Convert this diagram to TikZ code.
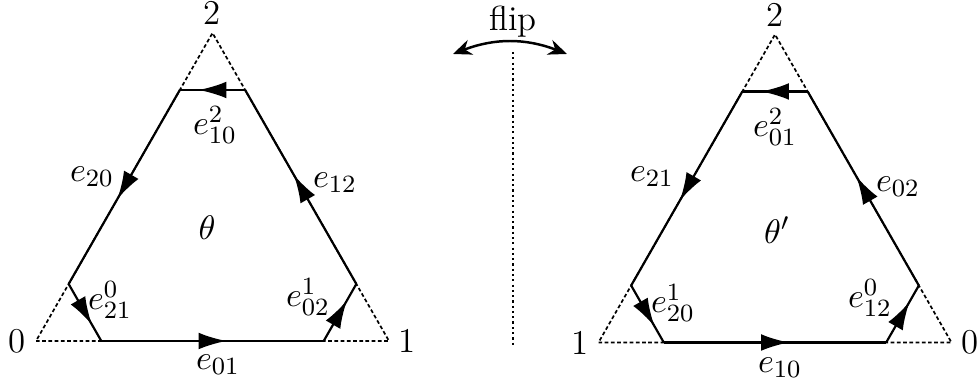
\documentclass[tikz,border=0pt]{standalone}
\usepackage{amsmath}
\usepackage{tikz}
\usetikzlibrary{arrows.meta,positioning,calc,decorations.markings}

\begin{document}
\begin{tikzpicture}[
    x=0.0113cm, y=0.0113cm,
    font=\fontsize{11.2}{13.5}\selectfont,
    edge/.style={line width=0.7pt, postaction={decorate},
      decoration={markings, mark=at position 0.5 with {\arrow[xshift=4.5pt]{Latex[length=9pt,width=5.4pt]}}}},
    cut/.style={dash pattern=on 1.2pt off 0.8pt, line width=0.55pt},
    vtx/.style={inner sep=1.5pt},
    lbl/.style={inner sep=1pt},
    axis/.style={densely dotted, line width=0.7pt}
]
\useasboundingbox (0,0) rectangle (979,386);

% Left triangle
\coordinate (a0) at (36,45);
\coordinate (a1) at (389,45);
\coordinate (a2) at (212.5,353);
\foreach \i/\j in {0/1, 1/0, 0/2, 2/0, 1/2, 2/1}
  \coordinate (a\i\j) at ($(a\i)!0.185!(a\j)$);

\draw[cut] (a0) -- (a1) -- (a2) -- cycle;
\foreach \i/\j in {a01/a10, a10/a12, a12/a21, a21/a20, a20/a02, a02/a01}
  \draw[edge] (\i) -- (\j);

\node[vtx, left=1.5pt of a0] (n0) {0};
\node[vtx, right=1.5pt of a1] (n1) {1};
\node[vtx, above=1pt of a2] (n2) {2};

\node[lbl] (l01) at (218,21) {$e_{01}$};
\node[lbl] (l10) at (215,261) {$e^2_{10}$};
\node[lbl] (l20) at (92,209) {$e_{20}$};
\node[lbl] (l12) at (335,203) {$e_{12}$};
\node[lbl] (l21) at (110,86) {$e^0_{21}$};
\node[lbl] (l02) at (308,89) {$e^1_{02}$};
\node[lbl] (th) at (207,158) {$\theta$};

% Flip axis
\coordinate (axtop) at (513,334);
\coordinate (axbot) at (513,39);
\draw[axis] (axtop) -- (axbot);
\coordinate (fl) at (453,332);
\coordinate (fr) at (567,332);
\draw[{Stealth[length=6pt,width=5pt]}-{Stealth[length=6pt,width=5pt]}, line width=0.8pt] (fl) to[bend left=21] (fr);
\node[lbl] (flip) at (513,364) {flip};

% Right triangle
\coordinate (b1) at (598.5,43.5);
\coordinate (b0) at (951.5,43.5);
\coordinate (b2) at (775,351.5);
\foreach \i/\j in {0/1, 1/0, 0/2, 2/0, 1/2, 2/1}
  \coordinate (b\i\j) at ($(b\i)!0.185!(b\j)$);

\draw[cut] (b1) -- (b0) -- (b2) -- cycle;
\foreach \i/\j in {b10/b01, b01/b02, b02/b20, b20/b21, b21/b12, b12/b10}
  \draw[edge] (\i) -- (\j);

\node[vtx, left=1.5pt of b1] (m1) {1};
\node[vtx, right=1.5pt of b0] (m0) {0};
\node[vtx, above=1pt of b2] (m2) {2};

\node[lbl] (k10) at (780,18) {$e_{10}$};
\node[lbl] (k01) at (775,259) {$e^2_{01}$};
\node[lbl] (k21) at (652,209) {$e_{21}$};
\node[lbl] (k02) at (898,199) {$e_{02}$};
\node[lbl] (k20) at (673,83) {$e^1_{20}$};
\node[lbl] (k12) at (870,88) {$e^0_{12}$};
\node[lbl] (thp) at (777,156) {$\theta'$};

\end{tikzpicture}
\end{document}
